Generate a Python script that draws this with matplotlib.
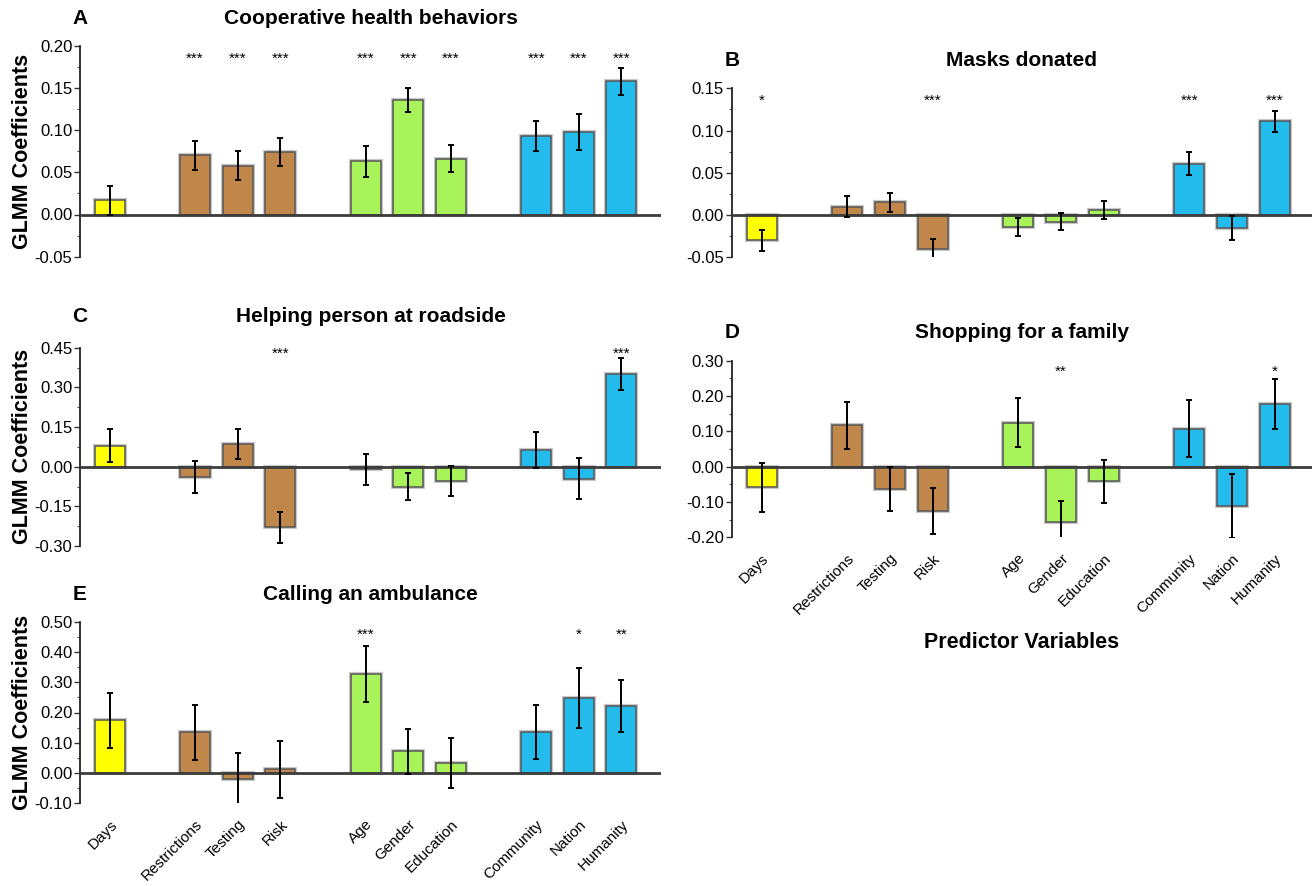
import matplotlib
matplotlib.use("Agg")
import matplotlib.pyplot as plt
import numpy as np

plt.rcParams['font.family'] = ['Liberation Sans', 'DejaVu Sans']

categories = ["Days", "Restrictions", "Testing", "Risk", "Age", "Gender",
              "Education", "Community", "Nation", "Humanity"]
positions = [0, 2, 3, 4, 6, 7, 8, 10, 11, 12]
groups = ["days", "ctx", "ctx", "ctx", "demo", "demo", "demo", "id", "id", "id"]
group_colors = {"days": "#FFFF00", "ctx": "#C0864A", "demo": "#A8F25A", "id": "#23BAEC"}

# Panel A: Cooperative health behaviors
a_vals = [0.017, 0.070, 0.058, 0.074, 0.063, 0.136, 0.066, 0.093, 0.098, 0.158]
a_err = [0.017, 0.017, 0.017, 0.017, 0.018, 0.014, 0.016, 0.018, 0.021, 0.016]
a_stars = ["", "***", "***", "***", "***", "***", "***", "***", "***", "***"]

# Panel B: Masks donated
b_vals = [-0.030, 0.010, 0.015, -0.040, -0.014, -0.008, 0.006, 0.061, -0.015, 0.111]
b_err = [0.012, 0.0125, 0.011, 0.012, 0.011, 0.010, 0.011, 0.014, 0.014, 0.0127]
b_stars = ["*", "", "", "***", "", "", "", "***", "", "***"]

# Panel C: Helping person at roadside
c_vals = [0.080, -0.039, 0.085, -0.230, -0.010, -0.075, -0.055, 0.062, -0.045, 0.350]
c_err = [0.063, 0.060, 0.057, 0.058, 0.058, 0.051, 0.056, 0.068, 0.077, 0.060]
c_stars = ["", "", "", "***", "", "", "", "", "", "***"]

# Panel D: Shopping for a family
d_vals = [-0.059, 0.117, -0.063, -0.125, 0.125, -0.156, -0.042, 0.107, -0.112, 0.177]
d_err = [0.069, 0.066, 0.062, 0.065, 0.068, 0.058, 0.062, 0.081, 0.091, 0.070]
d_stars = ["", "", "", "", "", "**", "", "", "", "*"]

# Panel E: Calling an ambulance
e_vals = [0.174, 0.135, -0.020, 0.013, 0.327, 0.072, 0.034, 0.135, 0.248, 0.222]
e_err = [0.090, 0.091, 0.085, 0.094, 0.092, 0.075, 0.082, 0.089, 0.100, 0.087]
e_stars = ["", "", "", "", "***", "", "", "", "*", "**"]

W, H = 1316, 886
fig = plt.figure(figsize=(W / 100, H / 100), dpi=100)


def fx(px):
    return px / W


def fy(py):
    return 1 - py / H


panels = [
    ("A", "Cooperative health behaviors", a_vals, a_err, a_stars, (80, 661, 45.7, 256.7),
     (-0.05, 0.20), [-0.05, 0, 0.05, 0.10, 0.15, 0.20], 18, 12.5, False, True),
    ("B", "Masks donated", b_vals, b_err, b_stars, (731.7, 1312, 88.3, 257.3),
     (-0.05, 0.15), [-0.05, 0, 0.05, 0.10, 0.15], 60.7, 12.2, False, False),
    ("C", "Helping person at roadside", c_vals, c_err, c_stars, (80, 661, 347.7, 546),
     (-0.30, 0.45), [-0.30, -0.15, 0, 0.15, 0.30, 0.45], 317, 7.5, False, True),
    ("D", "Shopping for a family", d_vals, d_err, d_stars, (731.7, 1312, 360.7, 537.3),
     (-0.20, 0.30), [-0.20, -0.10, 0, 0.10, 0.20, 0.30], 332.3, 10.6, True, False),
    ("E", "Calling an ambulance", e_vals, e_err, e_stars, (80, 661, 621.7, 803.3),
     (-0.10, 0.50), [-0.10, 0, 0.10, 0.20, 0.30, 0.40, 0.50], 594, 12.5, True, True),
]

colors = [group_colors[g] for g in groups]

for (letter, title, vals, err, stars, box, ylim, yticks, title_y, star_pt,
     show_x, show_ylabel) in panels:
    l, r, t, b = box
    ax = fig.add_axes([fx(l), fy(b), fx(r) - fx(l), fy(t) - fy(b)])
    ax.bar(positions, vals, width=0.7, color=colors, edgecolor="#c8c8c8",
           linewidth=3.0, zorder=2)
    ax.bar(positions, vals, width=0.7, color=colors, edgecolor="#555555",
           linewidth=1.1, zorder=3)
    ax.errorbar(positions, vals, yerr=err, fmt="none", ecolor="black",
                elinewidth=1.4, capsize=2.5, capthick=1.4, zorder=5)
    ax.axhline(0, color="#3c3c3c", linewidth=2.0, zorder=4)
    ax.set_xlim(-0.7, 12.93 if l < 700 else 12.87)
    ax.set_ylim(*ylim)
    ax.set_yticks(yticks)
    ax.set_yticklabels([f"{v:.2f}" for v in yticks], fontsize=12)
    step = yticks[1] - yticks[0]
    minor = [v + step / 2 for v in yticks[:-1]]
    ax.set_yticks(minor, minor=True)
    ax.tick_params(axis="y", which="major", length=4, width=1, pad=1.5, color="#333333")
    ax.tick_params(axis="y", which="minor", length=2.5, width=0.8, color="#555555")
    for s in ["top", "right", "bottom"]:
        ax.spines[s].set_visible(False)
    ax.spines["left"].set_linewidth(1.3)
    ax.spines["left"].set_color("#222222")
    ax.patch.set_alpha(0)
    if show_x:
        ax.set_xticks(positions)
        ax.set_xticklabels(categories, rotation=45, ha="right",
                           rotation_mode="anchor", fontsize=11)
        ax.tick_params(axis="x", length=0, pad=10)
    else:
        ax.set_xticks([])
    for p, s in zip(positions, stars):
        if s:
            ax.annotate(s, xy=(p, 1.0), xycoords=("data", "axes fraction"),
                        xytext=(0, -star_pt), textcoords="offset points",
                        ha="center", va="baseline", fontsize=11)
    cx = (l + r) / 2
    fig.text(fx(cx), fy(title_y), title, ha="center", va="center",
             fontsize=15, fontweight="bold")
    fig.text(fx(l), fy(title_y), letter, ha="center", va="center",
             fontsize=15, fontweight="bold")
    if show_ylabel:
        fig.text(fx(23), fy((t + b) / 2), "GLMM Coefficients", rotation=90,
                 ha="center", va="center", fontsize=15.5, fontweight="bold")

fig.text(fx(1022), fy(643), "Predictor Variables", ha="center", va="center",
         fontsize=15.5, fontweight="bold")

fig.savefig("out.png", dpi=100, facecolor="white")
